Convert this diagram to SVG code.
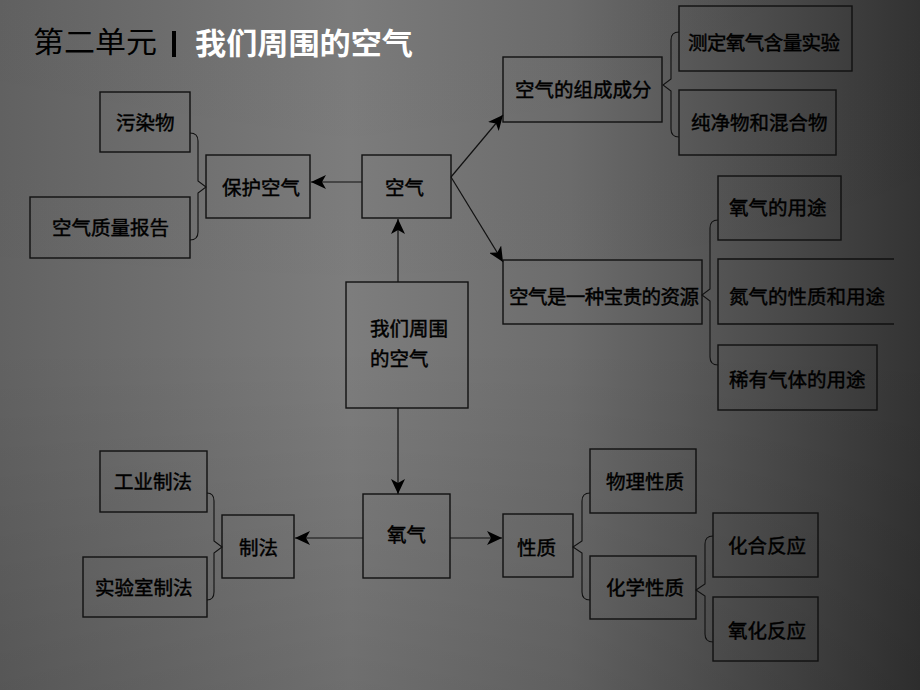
<svg xmlns="http://www.w3.org/2000/svg" width="920" height="690" viewBox="0 0 920 690">
  <defs>
    <linearGradient id="bg" x1="0" y1="0" x2="920" y2="0" gradientUnits="userSpaceOnUse">
      <stop offset="0" stop-color="#626262"/>
      <stop offset="0.38" stop-color="#7d7d7d"/>
      <stop offset="0.62" stop-color="#6c6c6c"/>
      <stop offset="0.8" stop-color="#515151"/>
      <stop offset="1" stop-color="#333333"/>
    </linearGradient>
    <linearGradient id="shade" x1="0" y1="0" x2="0" y2="690" gradientUnits="userSpaceOnUse">
      <stop offset="0" stop-color="#000" stop-opacity="0.02"/>
      <stop offset="0.5" stop-color="#000" stop-opacity="0"/>
      <stop offset="1" stop-color="#000" stop-opacity="0.12"/>
    </linearGradient>
    <marker id="arr" markerUnits="userSpaceOnUse" markerWidth="16" markerHeight="14" refX="15" refY="7" orient="auto">
      <path d="M0,0 L15,7 L0,14 L4,7 Z" fill="#000"/>
    </marker>
    <style>
      .box { fill: none; stroke: #111; stroke-width: 1.4; }
      .brace { fill: none; stroke: #111; stroke-width: 1.1; }
      .con { fill: none; stroke: #111; stroke-width: 1.2; }
      .t { font-family: "Noto Sans CJK SC", "Noto Sans", sans-serif; font-size: 19.5px; fill: #000; stroke: #000; stroke-width: 0.45; }
    </style>
  </defs>

  <rect x="0" y="0" width="920" height="690" fill="url(#bg)"/>
  <rect x="0" y="0" width="920" height="690" fill="url(#shade)"/>

  <g id="title">
    <text x="33" y="53" font-family="Noto Sans CJK SC, sans-serif" font-size="29" fill="#000" textLength="124" lengthAdjust="spacingAndGlyphs">第二单元</text>
    <rect x="172" y="31" width="4" height="26" fill="#000"/>
    <text x="195" y="54" font-family="Noto Sans CJK SC, sans-serif" font-size="30" font-weight="bold" fill="#fff" textLength="218" lengthAdjust="spacingAndGlyphs">我们周围的空气</text>
  </g>

  <g id="connectors">
    <line class="con" x1="362" y1="182" x2="311" y2="182" marker-end="url(#arr)"/>
    <line class="con" x1="398" y1="282" x2="398" y2="219" marker-end="url(#arr)"/>
    <line class="con" x1="451" y1="177" x2="503" y2="115" marker-end="url(#arr)"/>
    <line class="con" x1="451" y1="177" x2="503" y2="262" marker-end="url(#arr)"/>
    <line class="con" x1="398" y1="408" x2="398" y2="494" marker-end="url(#arr)"/>
    <line class="con" x1="363" y1="538" x2="295" y2="538" marker-end="url(#arr)"/>
    <line class="con" x1="450" y1="538" x2="502" y2="538" marker-end="url(#arr)"/>
    <path class="brace" d="M190,133 Q198,133 198,141 V181 L206,187 L198,193 V232 Q198,240 190,240"/>
    <path class="brace" d="M679,32 Q671,32 671,40 V79 L663,85 L671,91 V129 Q671,137 679,137"/>
    <path class="brace" d="M718,220 Q710,220 710,228 V289 L702,295 L710,301 V357 Q710,365 718,365"/>
    <path class="brace" d="M207,493 Q214,493 214,501 V541 L222,547 L214,553 V592 Q214,600 207,600"/>
    <path class="brace" d="M590,493 Q582,493 582,501 V541 L573,547 L582,553 V592 Q582,600 590,600"/>
    <path class="brace" d="M713,536 Q705,536 705,544 V584 L696,590 L705,596 V634 Q705,642 713,642"/>
  </g>

  <g id="n-wurenwu">
    <rect class="box" x="100" y="92" width="90" height="60"/>
    <text class="t" x="116" y="130">污染物</text>
  </g>
  <g id="n-baogao">
    <rect class="box" x="30" y="197" width="160" height="61"/>
    <text class="t" x="52" y="235">空气质量报告</text>
  </g>
  <g id="n-baohu">
    <rect class="box" x="206" y="155" width="104" height="63"/>
    <text class="t" x="222" y="195">保护空气</text>
  </g>
  <g id="n-kongqi">
    <rect class="box" x="362" y="155" width="89" height="63"/>
    <text class="t" x="385" y="195">空气</text>
  </g>
  <g id="n-center">
    <rect class="box" x="346" y="282" width="122" height="126"/>
    <text class="t" x="370" y="336">我们周围</text>
    <text class="t" x="370" y="366">的空气</text>
  </g>
  <g id="n-zucheng">
    <rect class="box" x="503" y="57" width="159" height="65"/>
    <text class="t" x="515" y="97">空气的组成成分</text>
  </g>
  <g id="n-ceding">
    <rect class="box" x="679" y="6" width="173" height="65"/>
    <text class="t" x="688" y="50" textLength="152">测定氧气含量实验</text>
  </g>
  <g id="n-chunjing">
    <rect class="box" x="679" y="90" width="157" height="65"/>
    <text class="t" x="691" y="130">纯净物和混合物</text>
  </g>
  <g id="n-ziyuan">
    <rect class="box" x="503" y="260" width="199" height="64"/>
    <text class="t" x="509" y="304" textLength="190">空气是一种宝贵的资源</text>
  </g>
  <g id="n-yangqi-yongtu">
    <rect class="box" x="718" y="176" width="123" height="64"/>
    <text class="t" x="729" y="215">氧气的用途</text>
  </g>
  <g id="n-danqi">
    <path class="box" d="M894,259 H718 V324 H894"/>
    <text class="t" x="729" y="304">氮气的性质和用途</text>
  </g>
  <g id="n-xiyou">
    <rect class="box" x="718" y="345" width="159" height="65"/>
    <text class="t" x="729" y="387">稀有气体的用途</text>
  </g>
  <g id="n-gongye">
    <rect class="box" x="100" y="451" width="107" height="61"/>
    <text class="t" x="114" y="489">工业制法</text>
  </g>
  <g id="n-shiyan">
    <rect class="box" x="83" y="557" width="124" height="60"/>
    <text class="t" x="95" y="595">实验室制法</text>
  </g>
  <g id="n-zhifa">
    <rect class="box" x="222" y="515" width="72" height="63"/>
    <text class="t" x="239" y="555">制法</text>
  </g>
  <g id="n-yangqi">
    <rect class="box" x="363" y="494" width="87" height="84"/>
    <text class="t" x="387" y="542">氧气</text>
  </g>
  <g id="n-xingzhi">
    <rect class="box" x="503" y="514" width="70" height="63"/>
    <text class="t" x="517" y="555">性质</text>
  </g>
  <g id="n-wuli">
    <rect class="box" x="590" y="449" width="106" height="64"/>
    <text class="t" x="606" y="489">物理性质</text>
  </g>
  <g id="n-huaxue">
    <rect class="box" x="590" y="556" width="106" height="63"/>
    <text class="t" x="606" y="595">化学性质</text>
  </g>
  <g id="n-huahe">
    <rect class="box" x="713" y="513" width="105" height="64"/>
    <text class="t" x="728" y="553">化合反应</text>
  </g>
  <g id="n-yanghua">
    <rect class="box" x="713" y="597" width="105" height="64"/>
    <text class="t" x="728" y="638">氧化反应</text>
  </g>
</svg>
